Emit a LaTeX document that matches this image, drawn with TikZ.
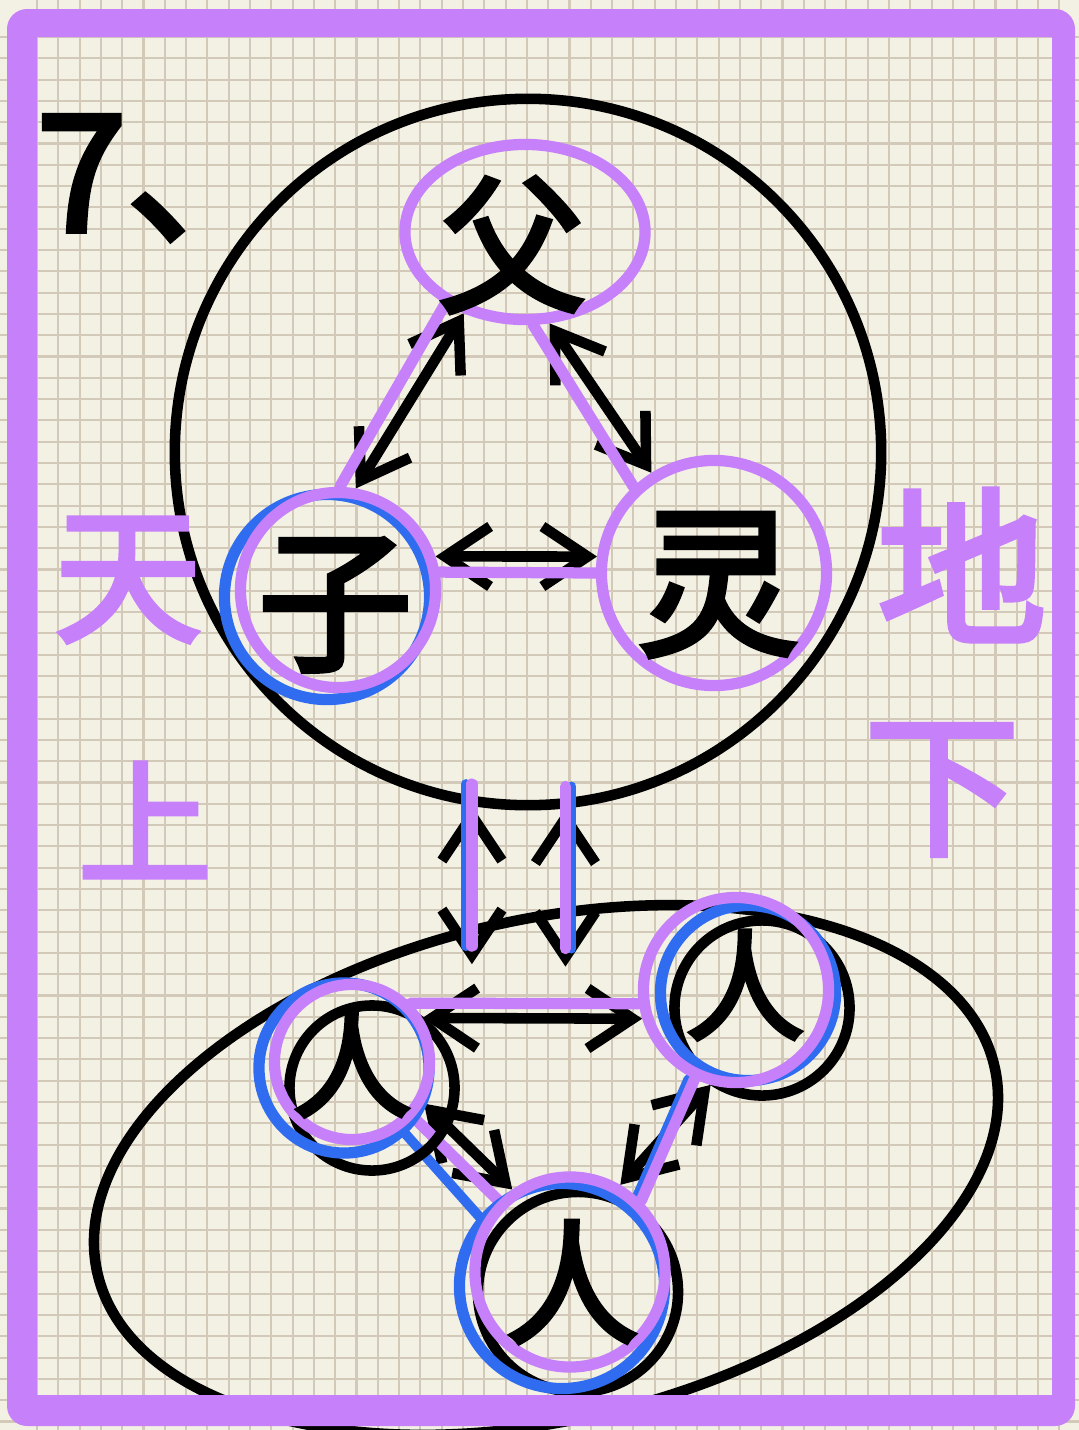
\documentclass[tikz,border=0pt]{standalone}
\usepackage{fontspec}
\newfontfamily\cjk{Noto Sans CJK SC}[FakeBold=3.5]
\usetikzlibrary{arrows.meta,calc,shapes.geometric}
\definecolor{paper}{RGB}{243,241,228}
\definecolor{gridc}{RGB}{210,201,184}
\definecolor{lav}{RGB}{198,128,250}
\definecolor{blu}{RGB}{48,108,240}
\newcommand\hsz[1]{\fontsize{#1}{#1}\selectfont}
\pgfdeclarelayer{bg}
\pgfdeclarelayer{lines}
\pgfsetlayers{bg,lines,main}
\tikzset{
  ink/.style={draw=black, line width=3pt, line cap=round, line join=round},
  lavring/.style={draw=lav, line width=3.2pt, inner sep=0pt},
  bluering/.style={draw=blu, line width=3.2pt, inner sep=0pt, circle},
  blkring/.style={draw=black, line width=3pt, inner sep=0pt, circle},
  dblarrow/.style={ink, {Straight Barb[length=0.45cm,width=0.6cm]}-{Straight Barb[length=0.45cm,width=0.6cm]}},
  lavline/.style={draw=lav, line width=3.2pt, line cap=round},
  bluline/.style={draw=blu, line width=2.8pt, line cap=round},
  hand/.style={inner sep=0pt, font=\cjk},
}
\begin{document}
\begin{tikzpicture}[x=0.01cm,y=-0.01cm]
\useasboundingbox (0,0) rectangle (1079,1430);
\begin{pgfonlayer}{bg}
\fill[paper] (0,0) rectangle (1079,1430);
\foreach \i in {0,...,50} {\draw[gridc,line width=0.6pt] ({37+21.3*\i},0) -- ({37+21.3*\i},1430);}
\foreach \j in {0,...,67} {\draw[gridc,line width=0.6pt] (0,{37+21.3*\j}) -- (1079,{37+21.3*\j});}
\node[circle, draw=black, line width=3pt, minimum size=7.06cm, inner sep=0pt] (world) at (528,452) {};
\node[ellipse, draw=black, line width=3pt, minimum width=9.2cm, minimum height=5.0cm, inner sep=0pt, rotate=13] (low) at (546,1170) {};
\end{pgfonlayer}

% rings
\node[ellipse, lavring, minimum width=2.4cm, minimum height=1.75cm] (fu) at (525,232) {};
\node[bluering, minimum size=2.05cm] (zib) at (327,597) {};
\node[circle, lavring, minimum size=1.95cm] (zi) at (338,590) {};
\node[circle, lavring, minimum size=2.25cm] (ling) at (714,573) {};

\node[blkring, minimum size=1.65cm] (Lk) at (372,1088) {};
\node[bluering, minimum size=1.7cm] (Lb) at (344,1068) {};
\node[circle, lavring, minimum size=1.55cm] (L) at (352,1062) {};
\node[blkring, minimum size=1.75cm] (Rk) at (762,1008) {};
\node[bluering, minimum size=1.75cm] (Rb) at (748,993) {};
\node[circle, lavring, minimum size=1.85cm] (R) at (736,990) {};
\node[blkring, minimum size=2.0cm] (Bk) at (578,1292) {};
\node[bluering, minimum size=2.05cm] (Bb) at (562,1286) {};
\node[circle, lavring, minimum size=1.9cm] (B) at (570,1272) {};

\begin{pgfonlayer}{lines}
% top triangle
\draw[dblarrow] (fu.233) -- (zi.80);
\draw[lavline] (fu.222) -- (zi.89);
\draw[dblarrow] (fu.-75) -- (ling.122);
\draw[lavline] (fu.-85) -- (ling.133);
\draw[dblarrow] (zi.19) -- (ling.172);
\draw[lavline] (zi.10) -- (ling.180);
% vertical links
\coordinate (vLt) at ([yshift=0.22cm]world.-99);
\coordinate (vLb) at ([yshift=-1.58cm]world.-99);
\coordinate (vLp) at ([yshift=-1.4cm]world.-99);
\coordinate (vRt) at ([yshift=0.22cm]world.-84);
\coordinate (vRb) at ([yshift=-1.58cm]world.-84);
\coordinate (vRp) at ([yshift=-1.4cm]world.-84);
\draw[dblarrow] (world.-99) -- (vLb);
\draw[dblarrow] (world.-84) -- (vRb);
\draw[bluline] ([xshift=-0.06cm]vLt) -- ([xshift=-0.06cm]vLp);
\draw[bluline] ([xshift=0.06cm]vRt) -- ([xshift=0.06cm]vRp);
\draw[lavline] (vLt) -- (vLp);
\draw[lavline] (vRt) -- (vRp);
% lower triangle
\draw[dblarrow] (L.32) -- (R.197);
\draw[lavline] (L.45) -- (R.188);
\draw[dblarrow] (L.-30) -- (B.125);
\draw[bluline] (Lb.-47) -- (Bb.140);
\draw[lavline] (L.-42) -- (B.135);
\draw[dblarrow] (R.255) -- (B.60);
\draw[bluline] ([xshift=-0.06cm]R.245) -- ([xshift=-0.06cm]B.45);
\draw[lavline] (R.245) -- (B.45);
\end{pgfonlayer}

% texts
\node[hand, anchor=west] (seven) at (36,178) {\hsz{46}7、};
\node[hand] (fut) at (512,245) {\hsz{42}父};
\node[hand] (zit) at (335,605) {\hsz{44}子};
\node[hand] (lingt) at (718,585) {\hsz{46}灵};
\node[hand] (Lt) at (352,1062) {\hsz{34}人};
\node[hand] (Rt) at (745,985) {\hsz{34}人};
\node[hand] (Bt) at (572,1282) {\hsz{38}人};
\node[hand, text=lav] (tian) at (128,580) {\hsz{42}天};
\node[hand, text=lav] (shang) at (145,820) {\hsz{38}上};
\node[hand, text=lav] (di) at (962,565) {\hsz{48}地};
\node[hand, text=lav] (xia) at (942,790) {\hsz{44}下};

% frame
\fill[lav, even odd rule] [rounded corners=0.2cm] (7,9) rectangle (1075,1426) [sharp corners] (37,37) rectangle (1052,1395);
\end{tikzpicture}
\end{document}
